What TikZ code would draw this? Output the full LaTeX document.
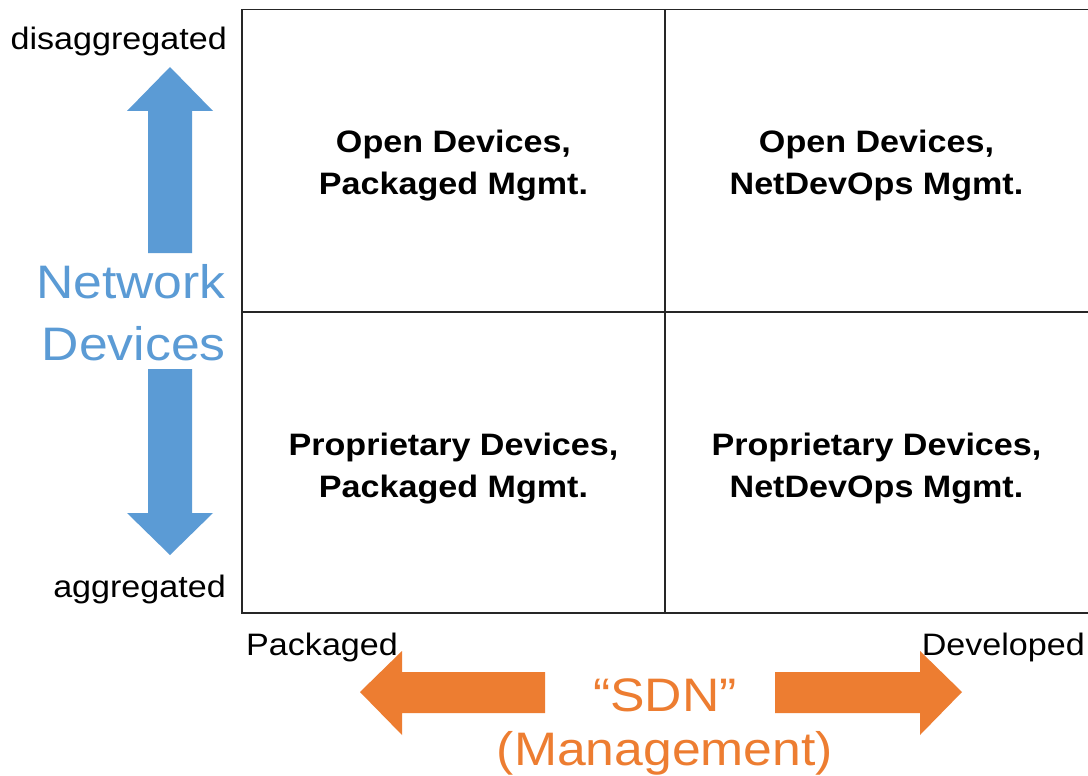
\documentclass[tikz,border=0pt]{standalone}
\usepackage{fontspec}
\setmainfont{Liberation Sans}[FakeStretch=1.1]
\definecolor{devblue}{HTML}{5B9BD5}
\definecolor{mgmtorange}{HTML}{ED7D31}

\begin{document}
\begin{tikzpicture}[x=1pt, y=-1pt,
  gridline/.style={line width=1.5pt, draw=black!85},
  celltext/.style={font=\fontsize{31}{42}\selectfont\bfseries, align=center, inner sep=0pt},
  axislabel/.style={font=\fontsize{31}{37}\selectfont, inner sep=0pt},
  bigblue/.style={font=\fontsize{47}{56}\selectfont, text=devblue, inner sep=0pt},
  bigorange/.style={font=\fontsize{47}{56}\selectfont, text=mgmtorange, inner sep=0pt},
  bluearrow/.style={fill=devblue},
  orangearrow/.style={fill=mgmtorange}]
\useasboundingbox (0,0) rectangle (1088,776);
\fill[white] (0,0) rectangle (1088,776);

% quadrant grid (right edge runs off the page)
\coordinate (tl) at (242,9.5);
\coordinate (bl) at (242,613);
\draw[gridline] (1090,9.5) -- (tl) -- (bl) -- (1090,613);
\draw[gridline] (242,312) -- (1090,312);
\draw[gridline] (665,9.5) -- (665,613);

% quadrant labels
\node[celltext] (q11) at (453.5,166) {Open Devices,\\Packaged Mgmt.};
\node[celltext] (q12) at (876.5,166) {Open Devices,\\NetDevOps Mgmt.};
\node[celltext] (q21) at (453.5,469) {Proprietary Devices,\\Packaged Mgmt.};
\node[celltext] (q22) at (876.5,469) {Proprietary Devices,\\NetDevOps Mgmt.};

% vertical axis: network devices
\node[axislabel, anchor=base east] (dis) at (227,50) {disaggregated};
\node[axislabel, anchor=base east] (agg) at (226,597) {aggregated};
\node[bigblue, anchor=base east] (net) at (226,298) {Network};
\node[bigblue, anchor=base east] (dev) at (226,360) {Devices};
\fill[bluearrow] (170,67) -- (213,111) -- (192,111) -- (192,253)
  -- (148,253) -- (148,111) -- (127,111) -- cycle;
\fill[bluearrow] (170,555) -- (213,513) -- (192,513) -- (192,369)
  -- (148,369) -- (148,513) -- (127,513) -- cycle;

% horizontal axis: management
\node[axislabel, anchor=base west] (pkg) at (246,655) {Packaged};
\node[axislabel, anchor=base east] (dvl) at (1085,655) {Developed};
\node[bigorange, anchor=base] (sdn) at (665,711) {“SDN”};
\node[bigorange, anchor=base] (mgmt) at (665,765) {(Management)};
\fill[orangearrow] (360,692) -- (402,651) -- (402,672) -- (545,672)
  -- (545,713) -- (402,713) -- (402,735) -- cycle;
\fill[orangearrow] (962,692) -- (920,651) -- (920,672) -- (775,672)
  -- (775,713) -- (920,713) -- (920,735) -- cycle;
\end{tikzpicture}
\end{document}
